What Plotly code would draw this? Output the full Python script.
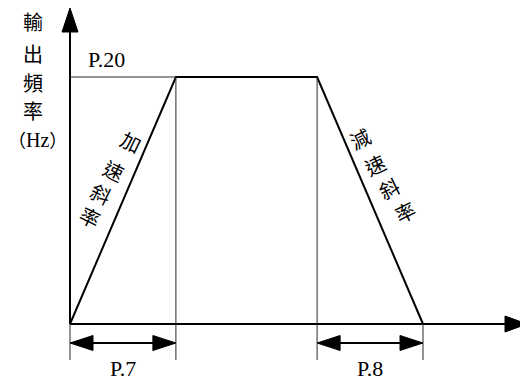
import math
import plotly.graph_objects as go

# ---------------- data ----------------
time_pts = [0, 3, 7, 10]          # start, end of accel, start of decel, end
freq_pts = [0, 1, 1, 0]           # output frequency (fraction of P.20)
top_label = "P.20"
accel_label = "P.7"
decel_label = "P.8"
y_title_lines = ["輸", "出", "頻", "率", "（Hz）"]
accel_text = ["加", "速", "斜", "率"]
decel_text = ["減", "速", "斜", "率"]

# ---------------- layout helpers (reference pixels -> data) ----------------
OFF = 8                      # page body margin
W, H = 528 - OFF, 383 - OFF  # figure size
X0PX, X1PX = 70, 423         # reference pixel of t=0 and t=end
Y0PX, Y1PX = 324, 77         # reference pixel of f=0 and f=top
sx = (X1PX - X0PX) / (time_pts[-1] - time_pts[0])
sy = (Y0PX - Y1PX) / (max(freq_pts) - min(freq_pts))


def tx(px):
    return (px - X0PX) / sx


def fy(py):
    return (Y0PX - py) / sy


def px_of(t, f):
    return X0PX + t * sx, Y0PX - f * sy


SERIF = "Liberation Serif"
CJK = "Noto Sans CJK TC"
BLACK = "#000000"
THIN = "#2a2a2a"

fig = go.Figure()

# trapezoid profile
fig.add_trace(go.Scatter(x=time_pts, y=freq_pts, mode="lines",
                         line=dict(color=BLACK, width=2), hoverinfo="skip",
                         showlegend=False))

shapes = []


def line(x0, y0, x1, y1, w=1, c=THIN):
    shapes.append(dict(type="line", x0=x0, y0=y0, x1=x1, y1=y1,
                       xref="x", yref="y", line=dict(color=c, width=w)))


def tri(tip, base_a, base_b):
    path = "M{},{} L{},{} L{},{} Z".format(tip[0], tip[1], base_a[0], base_a[1], base_b[0], base_b[1])
    shapes.append(dict(type="path", path=path, xref="x", yref="y",
                       fillcolor=BLACK, line=dict(color=BLACK, width=1)))


t_a, t_b, t_c, t_d = time_pts
f_top = freq_pts[1]
f_tick = fy(360)
f_dim = fy(343)

# axes with arrows
line(t_a, 0, t_a, fy(28), 2, BLACK)
tri((t_a, fy(8)), (t_a - 8 / sx, fy(32)), (t_a + 8 / sx, fy(32)))
line(t_a, 0, tx(508), 0, 2, BLACK)
tri((tx(527), 0), (tx(505), 8 / sy), (tx(505), -8 / sy))

# thin guide lines
line(t_a, f_top, t_b, f_top)
line(t_b, f_tick, t_b, f_top)
line(t_c, f_tick, t_c, f_top)
line(t_a, f_tick, t_a, 0)
line(t_d, f_tick, t_d, 0)

# dimension arrows
for s, e in [(t_a, t_b), (t_c, t_d)]:
    line(s + 20 / sx, f_dim, e - 20 / sx, f_dim, 2, BLACK)
    tri((s, f_dim), (s + 23 / sx, f_dim + 7.5 / sy), (s + 23 / sx, f_dim - 7.5 / sy))
    tri((e, f_dim), (e - 23 / sx, f_dim + 7.5 / sy), (e - 23 / sx, f_dim - 7.5 / sy))

annotations = []


def text(x, y, s, family=SERIF, size=21, angle=0):
    annotations.append(dict(x=x, y=y, xref="x", yref="y", text=s, showarrow=False,
                            textangle=angle, xanchor="center", yanchor="middle",
                            font=dict(family=family, size=size, color=BLACK)))


def cjk_span(s):
    return "".join(
        '<span style="font-family:Noto Sans CJK TC;font-size:18px">%s</span>' % c
        if ord(c) > 0x2000 else c
        for c in s)


text(tx(106), fy(59), top_label, size=22)
text((t_a + t_b) / 2, fy(368), accel_label, size=22)
text((t_c + t_d) / 2, fy(368), decel_label, size=22)

y_title_px = [21, 53, 82, 110, 139]
for s, py in zip(y_title_lines, y_title_px):
    if "Hz" in s:
        text(tx(37), fy(py), cjk_span(s), family=SERIF, size=20)
    else:
        text(tx(33), fy(py), s, family=CJK, size=20)

# slope labels, positioned along the slopes
bx, by = px_of(t_a, freq_pts[0])
ex, ey = px_of(t_b, freq_pts[1])
L = math.hypot(ex - bx, ey - by)
ux, uy = (ex - bx) / L, (ey - by) / L
nx, ny = uy, -ux
if nx > 0:
    nx, ny = -nx, -ny
acc_frac = [0.712, 0.591, 0.493, 0.395]
acc_off = [16, 20, 23, 24]
for ch, s, d in zip(accel_text, acc_frac, acc_off):
    px = bx + s * L * ux + d * nx
    py = by + s * L * uy + d * ny
    text(tx(px), fy(py), ch, family=CJK, size=20, angle=26)

bx, by = px_of(t_c, freq_pts[2])
ex, ey = px_of(t_d, freq_pts[3])
L = math.hypot(ex - bx, ey - by)
ux, uy = (ex - bx) / L, (ey - by) / L
nx, ny = -uy, ux
if nx < 0:
    nx, ny = -nx, -ny
dec_frac = [0.273, 0.386, 0.485, 0.590]
dec_off = [15, 19, 22, 28]
for ch, s, d in zip(decel_text, dec_frac, dec_off):
    px = bx + s * L * ux + d * nx
    py = by + s * L * uy + d * ny
    text(tx(px), fy(py), ch, family=CJK, size=20, angle=-26)

fig.update_layout(
    width=W, height=H, margin=dict(l=0, r=0, t=0, b=0),
    paper_bgcolor="white", plot_bgcolor="white",
    xaxis=dict(range=[tx(OFF), tx(OFF + W)], visible=False, fixedrange=True),
    yaxis=dict(range=[fy(OFF + H), fy(OFF)], visible=False, fixedrange=True),
    shapes=shapes, annotations=annotations, showlegend=False,
)

fig.write_html("out.html")
